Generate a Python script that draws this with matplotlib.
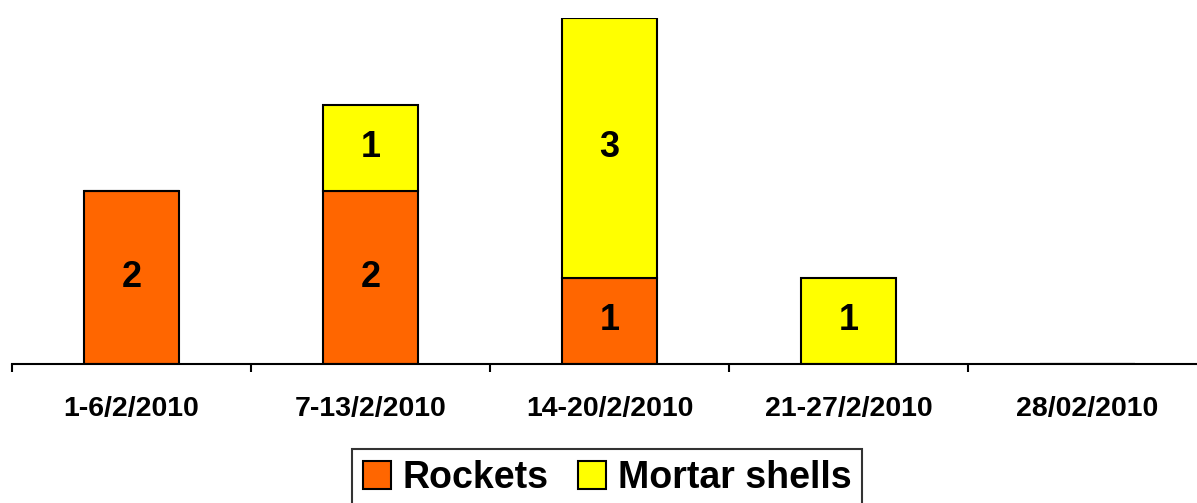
import matplotlib
matplotlib.use("Agg")
import matplotlib.pyplot as plt
import numpy as np

categories = ["1-6/2/2010", "7-13/2/2010", "14-20/2/2010", "21-27/2/2010", "28/02/2010"]
rockets = [2, 2, 1, 0, 0]
mortar = [0, 1, 3, 1, 0]

plt.rcParams['font.family'] = ['Liberation Sans', 'DejaVu Sans']
plt.rcParams['font.weight'] = 'bold'

W, H = 1197, 503
fig = plt.figure(figsize=(W/100, H/100), dpi=100)
ax = fig.add_axes([12/W, 139/H, 1195/W, 346/H])

x = np.arange(len(categories))
bw = 0.4
b1 = ax.bar(x, rockets, bw, color="#FF6600", edgecolor="black", linewidth=1.5, label="Rockets", zorder=2)
b2 = ax.bar(x, mortar, bw, bottom=rockets, color="#FFFF00", edgecolor="black", linewidth=1.5, label="Mortar shells", zorder=2)

for i in range(len(categories)):
    if rockets[i] > 0:
        ax.text(x[i], rockets[i]/2, str(rockets[i]), ha='center', va='center', fontsize=26, fontweight='bold')
    if mortar[i] > 0:
        ax.text(x[i], rockets[i] + mortar[i]/2, str(mortar[i]), ha='center', va='center', fontsize=26, fontweight='bold')

ax.set_xlim(-0.5, len(categories) - 0.5)
ax.set_ylim(0, 4)
for s in ['left', 'right', 'top']:
    ax.spines[s].set_visible(False)
ax.spines['bottom'].set_linewidth(1.5)
ax.set_yticks([])
ax.set_xticks(np.arange(len(categories) + 1) - 0.5, minor=False)
ax.set_xticklabels([""] * (len(categories) + 1))
ax.tick_params(axis='x', which='major', length=6, width=1.5, direction='out')
ax.set_xticks(x, minor=True)
ax.set_xticklabels(categories, minor=True, fontsize=20.5, fontweight='bold')
ax.tick_params(axis='x', which='minor', length=0, pad=23)

leg = fig.legend(handles=[b1, b2], labels=["Rockets", "Mortar shells"], loc='upper center',
                 bbox_to_anchor=(607/W, 54/H), ncol=2, frameon=True, fancybox=False,
                 edgecolor='black', prop={'size': 27, 'weight': 'bold'},
                 handlelength=0.75, handleheight=0.75, handletextpad=0.3, columnspacing=0.8,
                 borderpad=0.3, borderaxespad=0)
leg.get_frame().set_linewidth(1.5)

fig.savefig("out.png", dpi=100)
